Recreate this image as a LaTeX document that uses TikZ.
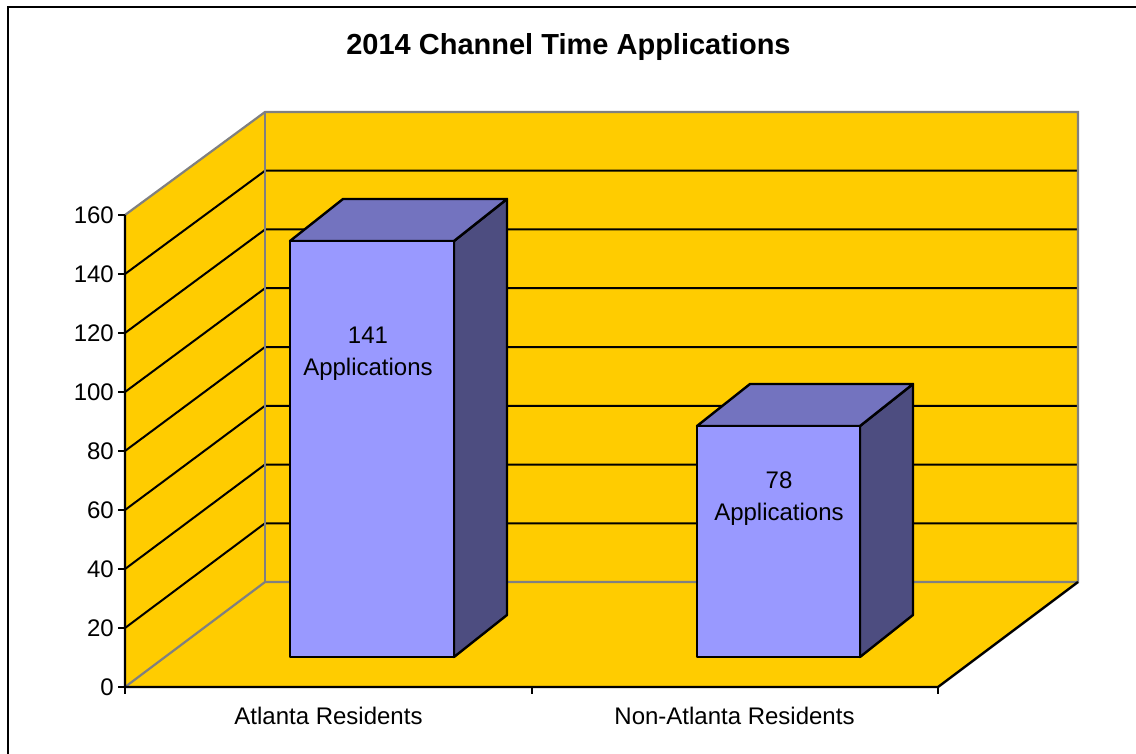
\documentclass[tikz,border=0pt]{standalone}
\usepackage{fontspec}
\setmainfont{Liberation Sans}
\definecolor{wallc}{HTML}{FFCC00}
\definecolor{barfront}{HTML}{9999FF}
\definecolor{bartop}{HTML}{7373BF}
\definecolor{barside}{HTML}{4D4D80}
\definecolor{edgegray}{HTML}{808080}
\tikzset{
  grayedge/.style={draw=edgegray, line width=2.2pt},
  gridln/.style={draw=black, line width=2pt},
  axisln/.style={draw=black, line width=2.4pt},
  barline/.style={draw=black, line width=2.4pt, line join=round},
  lbl/.style={font=\fontsize{24}{34}\selectfont, inner sep=0pt},
  ttl/.style={font=\fontsize{29}{34}\selectfont\bfseries, inner sep=0pt}
}
\begin{document}
\begin{tikzpicture}[x=1pt,y=-1pt]
\useasboundingbox (0,0) rectangle (1136,754);
\fill[white] (0,0) rectangle (1136,754);
% outer frame (left and top)
\draw[black, line width=2.4pt] (8,754) -- (8,7) -- (1136,7);
% walls and floor
\fill[wallc] (265,112) rectangle (1078,582);
\fill[wallc] (125,215) -- (265,112) -- (265,582) -- (125,687) -- cycle;
\fill[wallc] (125,687) -- (265,582) -- (1078,582) -- (938,687) -- cycle;
% gridlines
\foreach \i in {1,...,7} {
  \draw[gridln] (125,{687-\i*59}) -- (265,{582-\i*58.75}) -- (1078,{582-\i*58.75});
}
% wall edges
\draw[grayedge] (125,215) -- (265,112) -- (1078,112) -- (1078,582) -- (265,582) -- (125,687);
\draw[grayedge] (265,112) -- (265,582);
% axes
\draw[axisln] (125,215) -- (125,687) -- (938,687) -- (1078,582);
\foreach \i/\v in {0/0,1/20,2/40,3/60,4/80,5/100,6/120,7/140,8/160} {
  \draw[axisln] (118,{687-\i*59}) -- (125,{687-\i*59});
  \node[lbl, anchor=east] (y\v) at (114,{687-\i*59}) {\v};
}
\foreach \x in {125,532,938} {
  \draw[axisln] (\x,687) -- (\x,694);
}
% bars
\foreach \xa/\xb/\yt in {290/454/241, 697/860/426} {
  \filldraw[fill=barside, barline] (\xb,657) -- (\xb+53,615) -- (\xb+53,\yt-42) -- (\xb,\yt) -- cycle;
  \filldraw[fill=bartop, barline] (\xa,\yt) -- (\xa+53,\yt-42) -- (\xb+53,\yt-42) -- (\xb,\yt) -- cycle;
  \filldraw[fill=barfront, barline] (\xa,\yt) rectangle (\xb,657);
}
% value labels
\node[lbl, anchor=base] (v1a) at (368,343) {141};
\node[lbl, anchor=base] (v1b) at (368,375) {Applications};
\node[lbl, anchor=base] (v2a) at (779,488) {78};
\node[lbl, anchor=base] (v2b) at (779,520) {Applications};
% category labels
\node[lbl, anchor=base] (c1) at (328.5,724) {Atlanta Residents};
\node[lbl, anchor=base] (c2) at (734.5,724) {Non-Atlanta Residents};
% title
\node[ttl, anchor=base] (title) at (568.5,55) {2014 Channel Time Applications};
\end{tikzpicture}
\end{document}
